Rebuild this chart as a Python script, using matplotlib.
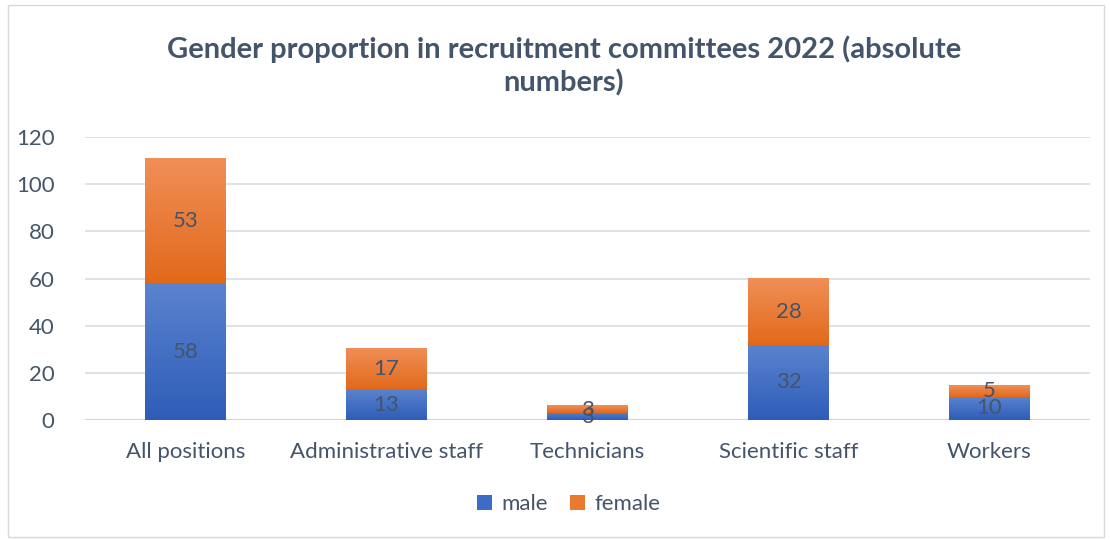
import numpy as np
import matplotlib.pyplot as plt
from matplotlib.patches import Rectangle
from matplotlib.colors import LinearSegmentedColormap

plt.rcParams['font.family'] = ['Lato', 'DejaVu Sans']

# Data
categories = ["All positions", "Administrative staff", "Technicians", "Scientific staff", "Workers"]
male = [58, 13, 3, 32, 10]
female = [53, 17, 3, 28, 5]

text_col = "#44546A"
blue_map = LinearSegmentedColormap.from_list("b", ["#2E5DB8", "#5B83CF"])
orange_map = LinearSegmentedColormap.from_list("o", ["#E2691A", "#F08F58"])

fig = plt.figure(figsize=(11.1, 5.4), dpi=100)
ax = fig.add_axes([0.0766, 0.222, 0.9054, 0.524])

x = np.arange(len(categories))
width = 0.4
grad = np.linspace(0, 1, 256).reshape(-1, 1)

def grad_bar(xc, bottom, height, cmap):
    # gradient-filled bar segment
    ax.imshow(grad, cmap=cmap, origin="lower", aspect="auto",
              extent=(xc - width / 2, xc + width / 2, bottom, bottom + height),
              zorder=2, interpolation="bilinear")

for i in range(len(categories)):
    grad_bar(x[i], 0, male[i], blue_map)
    grad_bar(x[i], male[i], female[i], orange_map)
    ax.text(x[i], male[i] / 2, str(male[i]), ha="center", va="center",
            fontsize=16, color=text_col, zorder=3)
    ax.text(x[i], male[i] + female[i] / 2, str(female[i]), ha="center", va="center",
            fontsize=16, color=text_col, zorder=3)

ax.set_xlim(-0.5, len(categories) - 0.5)
ax.set_ylim(0, 120)
ax.set_yticks(range(0, 121, 20))
ax.set_xticks(x)
ax.set_xticklabels(categories)
ax.tick_params(axis="both", length=0, labelsize=16, labelcolor=text_col)
ax.tick_params(axis="y", pad=22)
ax.tick_params(axis="x", pad=16)
ax.grid(axis="y", color="#D9DDE3", linewidth=1.2, zorder=0)
ax.set_axisbelow(True)
for s in ax.spines.values():
    s.set_visible(False)
ax.axhline(0, color="#D0D4DA", linewidth=1.5, zorder=1)

fig.suptitle("Gender proportion in recruitment committees 2022 (absolute\nnumbers)",
             x=0.508, y=0.935, fontsize=21, fontweight="bold", color=text_col,
             linespacing=1.3)

handles = [Rectangle((0, 0), 1, 1, facecolor="#3D6CC6"),
           Rectangle((0, 0), 1, 1, facecolor="#EB7A2E")]
fig.legend(handles, ["male", "female"], loc="center", bbox_to_anchor=(0.512, 0.066),
           ncol=2, frameon=False, fontsize=16, handlelength=0.7, handleheight=0.7,
           handletextpad=0.4, columnspacing=1.0, labelcolor=text_col)

fig.patches.append(Rectangle((0.007, 0.005), 0.988, 0.985, transform=fig.transFigure,
                             fill=False, edgecolor="#D9D9D9", linewidth=1))

fig.savefig("out.png", dpi=100)
